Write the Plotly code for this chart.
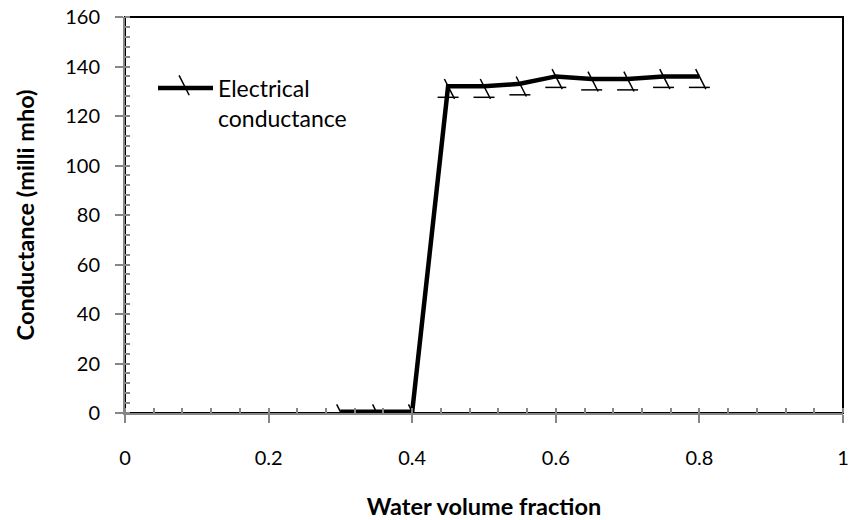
import plotly.graph_objects as go

water_fraction = [0.3, 0.35, 0.4, 0.45, 0.5, 0.55, 0.6, 0.65, 0.7, 0.75, 0.8]
conductance = [0.5, 0.5, 0.5, 132, 132, 133, 136, 135, 135, 136, 136]

x_ticks = [0, 0.2, 0.4, 0.6, 0.8, 1]
x_tick_text = ["0", "0.2", "0.4", "0.6", "0.8", "1"]
y_ticks = [0, 20, 40, 60, 80, 100, 120, 140, 160]

FONT = "Lato"
GRAY = "#868686"

fig = go.Figure()

# horizontal part of each marker (shifted down with standoff)
fig.add_trace(go.Scatter(
    x=water_fraction, y=conductance, mode="markers", showlegend=False,
    hoverinfo="skip",
    marker=dict(symbol="line-ew", size=15, angle=0, standoff=11,
                line=dict(color="black", width=1.5)),
))

# main line with diagonal part of each marker
fig.add_trace(go.Scatter(
    x=water_fraction, y=conductance, mode="lines+markers",
    name="Electrical<br>conductance",
    line=dict(color="black", width=4.5),
    marker=dict(symbol="line-ns", size=16, angle=-27, standoff=3,
                line=dict(color="black", width=1.5)),
))

fig.update_layout(
    width=850, height=520,
    margin=dict(l=125, r=7, t=17, b=107, autoexpand=False),
    paper_bgcolor="white", plot_bgcolor="white",
    font=dict(family=FONT, size=20, color="#000000"),
    showlegend=True,
    legend=dict(x=0.039, y=0.875, xanchor="left", yanchor="top",
                bgcolor="rgba(0,0,0,0)", font=dict(size=23), valign="top",
                itemwidth=55),
    shapes=[dict(type="rect", xref="paper", yref="paper", x0=0, x1=1, y0=0, y1=1,
                 line=dict(color="black", width=2), layer="below")],
)

fig.update_xaxes(
    range=[0, 1], tickvals=x_ticks, ticktext=x_tick_text,
    showgrid=False, zeroline=False, automargin=False,
    showline=True, linecolor=GRAY, linewidth=2,
    ticks="outside", ticklen=8, tickcolor=GRAY, tickwidth=2,
    ticklabelstandoff=18, tickfont=dict(size=20),
    minor=dict(dtick=0.04, ticks="inside", ticklen=5, tickcolor=GRAY, tickwidth=1.5),
    title=dict(text="<b>Water volume fraction</b>", font=dict(size=23.5), standoff=31),
)
fig.update_yaxes(
    range=[0, 160], tickvals=y_ticks,
    showgrid=False, zeroline=False, automargin=False,
    showline=True, linecolor=GRAY, linewidth=2,
    ticks="outside", ticklen=8, tickcolor=GRAY, tickwidth=2,
    ticklabelstandoff=11, tickfont=dict(size=20),
    minor=dict(dtick=4, ticks="inside", ticklen=5, tickcolor=GRAY, tickwidth=1.5),
    title=dict(text="<b>Conductance (milli mho)</b>", font=dict(size=23.5), standoff=24),
)

fig.write_html("out.html", config={"displayModeBar": False},
               post_script="document.body.style.margin='0';")
